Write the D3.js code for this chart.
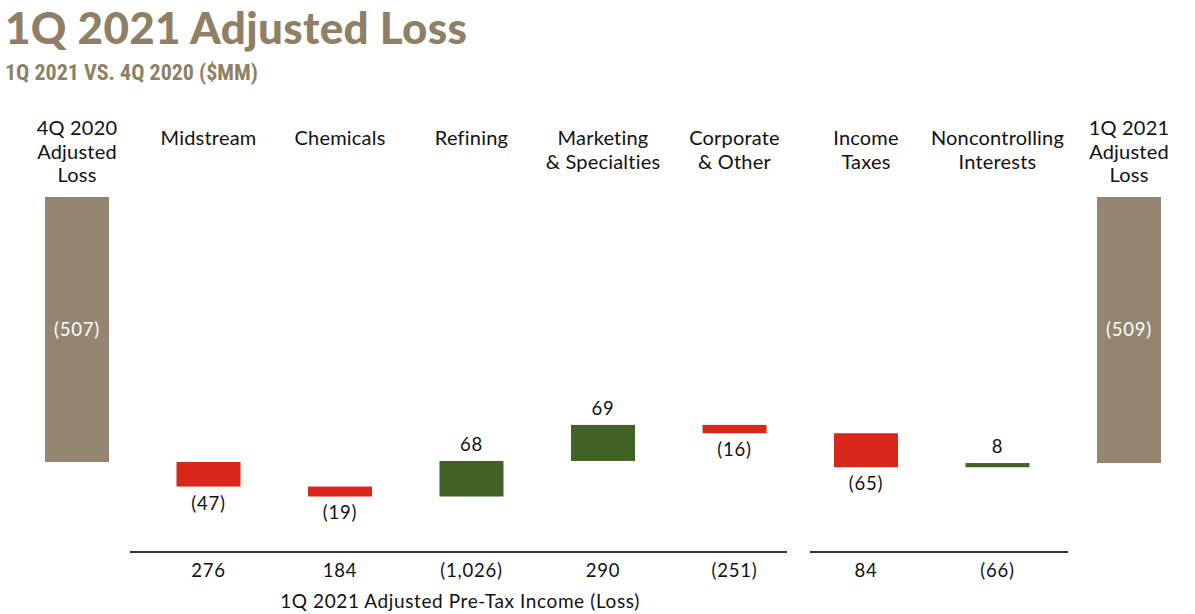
<!DOCTYPE html>
<html>
<head>
<meta charset="utf-8">
<script src="https://cdn.jsdelivr.net/npm/d3@7"></script>
<style>
  body { margin: 0; background: #fff; }
  text { font-family: Lato, "Open Sans", sans-serif; }
</style>
</head>
<body>
<div id="chart"></div>
<script>
// categories and values ($MM)
var categories = ["4Q 2020 Adjusted Loss", "Midstream", "Chemicals", "Refining", "Marketing & Specialties",
                  "Corporate & Other", "Income Taxes", "Noncontrolling Interests", "1Q 2021 Adjusted Loss"]
var labelLines = [["4Q 2020", "Adjusted", "Loss"], ["Midstream"], ["Chemicals"], ["Refining"],
                  ["Marketing", "& Specialties"], ["Corporate", "& Other"], ["Income", "Taxes"],
                  ["Noncontrolling", "Interests"], ["1Q 2021", "Adjusted", "Loss"]]
var startValue = -507
var deltas = [-47, -19, 68, 69, -16, -65, 8]
var endValue = -509
var preTaxCats = ["Midstream", "Chemicals", "Refining", "Marketing & Specialties", "Corporate & Other"]
var preTaxValues = [276, 184, -1026, 290, -251]
var afterCats = ["Income Taxes", "Noncontrolling Interests"]
var afterValues = [84, -66]

const W = 1195, H = 614
const TAN = "#938570", RED = "#d9271c", GREEN = "#416126", TITLE = "#8f7f66"
const BAR_W = 64

const svg = d3.select("#chart").append("svg")
    .attr("width", W).attr("height", H)

// format like accounting: negatives in parentheses
function fmt(v) {
    var s = d3.format(",")(Math.abs(v))
    return v < 0 ? "(" + s + ")" : s
}

// build waterfall rows
var rows = []
rows.push({ cat: categories[0], y0: 0, y1: startValue, type: "total", value: startValue })
var run = startValue
deltas.forEach(function(d, i) {
    rows.push({ cat: categories[i + 1], y0: run, y1: run + d, type: d < 0 ? "neg" : "pos", value: d })
    run += d
})
rows.push({ cat: categories[8], y0: 0, y1: endValue, type: "total", value: endValue })

var x = d3.scalePoint().domain(categories).range([77, 1129])
var y = d3.scaleLinear().domain([0, -600]).range([197, 197 + 600 * 265 / 507])

// titles
svg.append("text")
    .attr("x", 5).attr("y", 44)
    .text("1Q 2021 Adjusted Loss")
    .style("font-size", "44px")
    .style("font-weight", "900")
    .style("letter-spacing", "0.3px")
    .style("fill", TITLE)
svg.append("text")
    .attr("x", 5).attr("y", 80)
    .text("1Q 2021 VS. 4Q 2020 ($MM)")
    .style("font-family", "'Liberation Sans Narrow', 'Roboto Condensed', sans-serif")
    .style("font-size", "22px")
    .style("font-weight", "bold")
    .style("fill", TITLE)

// category headers
var heads = svg.append("g")
categories.forEach(function(c, i) {
    var lines = labelLines[i]
    var t = heads.append("text")
        .attr("text-anchor", "middle")
        .attr("x", x(c))
        .attr("y", lines.length == 3 ? 135 : 145)
        .style("font-size", "20px")
        .style("letter-spacing", "0.2px")
        .style("fill", "#111")
    lines.forEach(function(l, j) {
        t.append("tspan").attr("x", x(c)).attr("dy", j == 0 ? 0 : 23.5).text(l)
    })
})

// bars
svg.append("g").selectAll("rect")
    .data(rows)
    .enter()
    .append("rect")
    .attr("x", d => x(d.cat) - BAR_W / 2)
    .attr("width", BAR_W)
    .attr("y", d => y(Math.max(d.y0, d.y1)))
    .attr("height", d => Math.abs(y(d.y1) - y(d.y0)))
    .style("fill", d => d.type == "total" ? TAN : (d.type == "neg" ? RED : GREEN))

// value labels
svg.append("g").selectAll("text")
    .data(rows)
    .enter()
    .append("text")
    .attr("text-anchor", "middle")
    .attr("x", d => x(d.cat))
    .attr("y", function(d) {
        if (d.type == "total") return (y(d.y0) + y(d.y1)) / 2 + 6
        if (d.type == "neg") return y(Math.min(d.y0, d.y1)) + 23
        return y(Math.max(d.y0, d.y1)) - 10
    })
    .text(d => fmt(d.value))
    .style("font-size", "18.5px")
    .style("letter-spacing", "0.8px")
    .style("fill", d => d.type == "total" ? "#fff" : "#111")

// pre-tax income row
svg.append("line")
    .attr("x1", 130).attr("x2", 787).attr("y1", 552).attr("y2", 552)
    .style("stroke", "#333").style("stroke-width", 2)
svg.append("line")
    .attr("x1", 810).attr("x2", 1068).attr("y1", 552).attr("y2", 552)
    .style("stroke", "#333").style("stroke-width", 2)

var bottomCats = preTaxCats.concat(afterCats)
var bottomVals = preTaxValues.concat(afterValues)
svg.append("g").selectAll("text")
    .data(bottomVals)
    .enter()
    .append("text")
    .attr("text-anchor", "middle")
    .attr("x", (d, i) => x(bottomCats[i]))
    .attr("y", 577)
    .text(d => fmt(d))
    .style("font-size", "18.5px")
    .style("letter-spacing", "0.8px")
    .style("fill", "#111")

svg.append("text")
    .attr("text-anchor", "middle")
    .attr("x", 460).attr("y", 608)
    .text("1Q 2021 Adjusted Pre-Tax Income (Loss)")
    .style("font-size", "19px")
    .style("letter-spacing", "0.6px")
    .style("fill", "#111")
</script>
</body>
</html>
